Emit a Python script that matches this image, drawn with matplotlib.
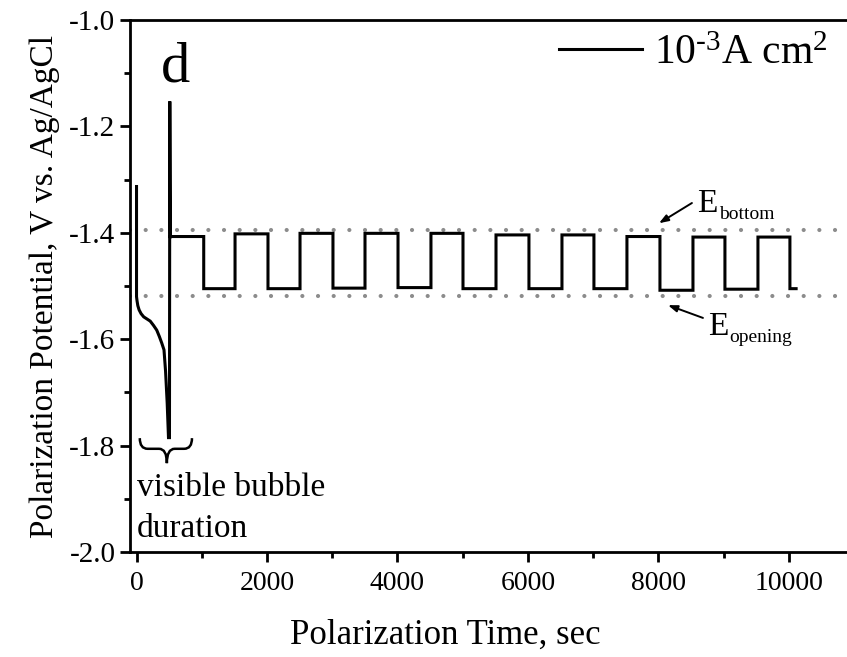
import matplotlib
matplotlib.use("Agg")
import matplotlib.pyplot as plt
from matplotlib.ticker import MultipleLocator, FormatStrFormatter
from matplotlib.path import Path
from matplotlib.patches import PathPatch

plt.rcParams['font.family'] = ['Liberation Serif', 'DejaVu Serif']
plt.rcParams['mathtext.fontset'] = 'custom'
plt.rcParams['mathtext.rm'] = 'Liberation Serif'
plt.rcParams['mathtext.it'] = 'Liberation Serif:italic'
plt.rcParams['axes.unicode_minus'] = False

# ---- data ----
# initial transient (time, potential)
init_t = [0, 0, 8, 20, 40, 70, 110, 160, 210, 260, 310, 350, 386, 421, 445, 470, 490, 505, 510, 515, 520]
init_v = [-1.313, -1.52, -1.528, -1.537, -1.545, -1.552, -1.558, -1.562, -1.566, -1.574,
          -1.583, -1.595, -1.607, -1.62, -1.66, -1.72, -1.785, -1.785, -1.153, -1.30, -1.41]

# square-wave section: high plateau from start to end, then low plateau
high_start = [520, 1510, 2506, 3502, 4513, 5510, 6521, 7517, 8529, 9525]
high_end = [1030, 2015, 3011, 4008, 5004, 6015, 7011, 8023, 9019, 10015]
high_v = [-1.407, -1.402, -1.401, -1.401, -1.401, -1.404, -1.404, -1.407, -1.408, -1.408]
low_v = [-1.505, -1.505, -1.504, -1.503, -1.505, -1.505, -1.505, -1.508, -1.506, -1.505]
end_t = 10110

E_bottom = -1.395
E_opening = -1.519

# build the polyline
t = list(init_t)
v = list(init_v)
for i in range(len(high_start)):
    t += [high_start[i], high_end[i], high_end[i]]
    v += [high_v[i], high_v[i], low_v[i]]
    nxt = high_start[i + 1] if i + 1 < len(high_start) else end_t
    t += [nxt]
    v += [low_v[i]]
    if i + 1 < len(high_start):
        t += [nxt]
        v += [high_v[i + 1]]

W, H = 847, 657
fig = plt.figure(figsize=(W / 100, H / 100), dpi=100)
ax = fig.add_axes([130 / W, 1 - 552 / H, (W - 130) / W, (552 - 20) / H])

for lvl in (E_bottom, E_opening):
    ax.axhline(lvl, color='#8c8c8c', lw=3.0, linestyle=(0, (0.01, 3.75)), dash_capstyle='round')

ax.plot(t, v, color='black', lw=2.2, label=r'$10^{\text{-}3}$A cm$^{2}$', solid_joinstyle='miter')

ax.set_xlim(-100, 10890)
ax.set_ylim(-2.0, -1.0)
ax.xaxis.set_major_locator(MultipleLocator(2000))
ax.xaxis.set_minor_locator(MultipleLocator(1000))
ax.yaxis.set_major_locator(MultipleLocator(0.2))
ax.yaxis.set_minor_locator(MultipleLocator(0.1))
ax.yaxis.set_major_formatter(FormatStrFormatter('%.1f'))

for s in ['left', 'bottom', 'top']:
    ax.spines[s].set_linewidth(2.0)
ax.spines['right'].set_visible(False)
ax.tick_params(which='major', direction='out', length=7.5, width=2.0, labelsize=20)
ax.tick_params(axis='y', which='major', labelsize=21, pad=3)
ax.tick_params(axis='x', which='major', pad=6)
ax.tick_params(which='minor', direction='out', length=4, width=2.0)
ax.tick_params(top=False, right=False)

ax.set_xlabel('Polarization Time, sec', fontsize=25)
ax.xaxis.set_label_coords(0.44, -0.125)
ax.set_ylabel('Polarization Potential, V vs. Ag/AgCl', fontsize=24)
ax.yaxis.set_label_coords(-0.097, 0.5)

leg = ax.legend(loc='upper right', frameon=False, fontsize=30, handlelength=2.0,
                handletextpad=0.3, borderaxespad=0.0, bbox_to_anchor=(0.997, 1.004))

ax.text(605, -1.116, 'd', fontsize=42, ha='center', va='baseline')

arrow = dict(arrowstyle='-|>,head_length=0.55,head_width=0.2', color='black', lw=1.4,
             shrinkA=0, shrinkB=0)
# E_bottom
ax.annotate('', xy=(8008, -1.382), xytext=(8513, -1.344), arrowprops=arrow)
eb = ax.text(8590, -1.361, 'E', fontsize=24, ha='left', va='baseline')
ax.annotate('bottom', xy=(1, 0), xycoords=eb, xytext=(1, 0), textcoords='offset points',
            fontsize=14, ha='left', va='baseline')
# E_opening
ax.annotate('', xy=(8146, -1.536), xytext=(8682, -1.560), arrowprops=arrow)
eo = ax.text(8759, -1.592, 'E', fontsize=24, ha='left', va='baseline')
ax.annotate('opening', xy=(1, 0), xycoords=eo, xytext=(1, 0), textcoords='offset points',
            fontsize=14, ha='left', va='baseline')

# curly brace marking the visible bubble duration
xl, xm, xr = 50, 465, 850
yt, yb, ytip = -1.786, -1.806, -1.833
dx = 120
verts = [(xl, yt), (xl, yb), (xl + dx, yb),
         (xm - dx, yb),
         (xm, yb), (xm, ytip),
         (xm, yb), (xm + dx, yb),
         (xr - dx, yb),
         (xr, yb), (xr, yt)]
codes = [Path.MOVETO, Path.CURVE3, Path.CURVE3,
         Path.LINETO,
         Path.CURVE3, Path.CURVE3,
         Path.CURVE3, Path.CURVE3,
         Path.LINETO,
         Path.CURVE3, Path.CURVE3]
ax.add_patch(PathPatch(Path(verts, codes), fill=False, lw=1.8, edgecolor='black'))

ax.text(10, -1.8947, 'visible bubble', fontsize=24, ha='left', va='baseline')
ax.text(10, -1.9718, 'duration', fontsize=24, ha='left', va='baseline')

fig.savefig('out.png', dpi=100)
